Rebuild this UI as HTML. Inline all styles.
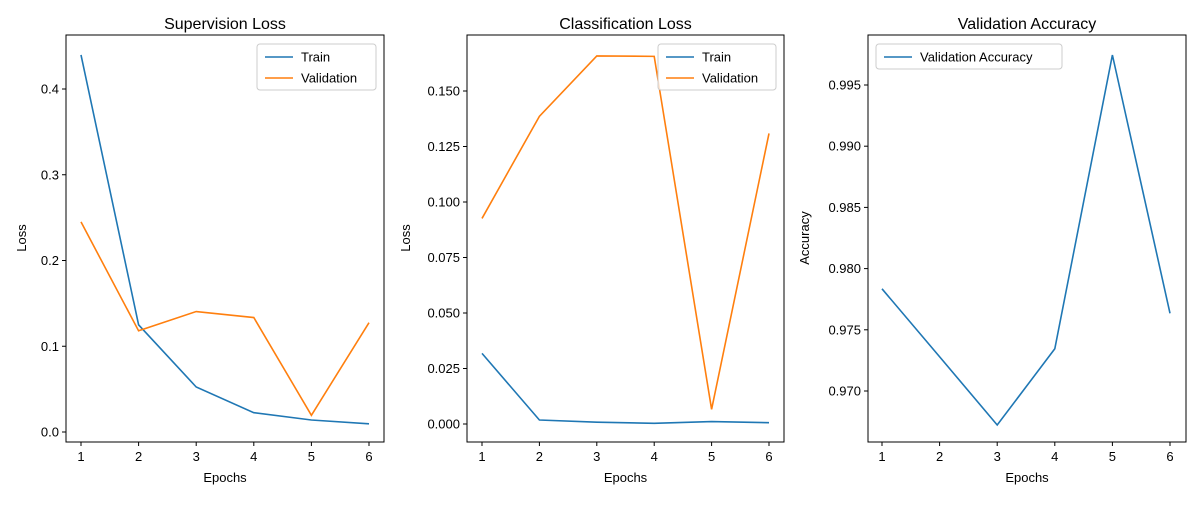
<!DOCTYPE html>
<html><head><meta charset="utf-8"><style>
body{margin:0;background:#fff}
svg{font-family:"Liberation Sans","DejaVu Sans",sans-serif}
</style></head><body>
<svg id="c" width="1200" height="500" xmlns="http://www.w3.org/2000/svg"></svg>
<script>
const epochs=[1,2,3,4,5,6];
const supTrain=[0.4397,0.125,0.0525,0.0225,0.014,0.0095];
const supVal=[0.245,0.118,0.1405,0.1335,0.0195,0.1275];
const clsTrain=[0.0318,0.0018,0.0008,0.0003,0.0011,0.0006];
const clsVal=[0.0926,0.1386,0.1658,0.1656,0.0066,0.1309];
const accVal=[0.97835,0.9728,0.96722,0.97345,0.99745,0.97635];
const supTicks=[0.0,0.1,0.2,0.3,0.4];
const clsTicks=[0.000,0.025,0.050,0.075,0.100,0.125,0.150];
const accTicks=[0.970,0.975,0.980,0.985,0.990,0.995];
const NS="http://www.w3.org/2000/svg";
const svg=document.getElementById('c');
function mk(t,a,p){const e=document.createElementNS(NS,t);for(const k in a)e.setAttribute(k,a[k]);(p||svg).appendChild(e);return e;}
function panel(cfg){
 const g=mk('g',{});
 
 
 const X=v=>cfg.x1+(v-1)*(cfg.x6-cfg.x1)/5;
 const Y=v=>cfg.yA+(v-cfg.vA)*(cfg.yB-cfg.yA)/(cfg.vB-cfg.vA);
 const fr=mk('rect',{x:cfg.L,y:35,width:cfg.R-cfg.L,height:407,fill:'none',stroke:'#000','stroke-width':1},g);
 
 epochs.forEach(e=>{
  mk('line',{x1:X(e),x2:X(e),y1:442,y2:446,stroke:'#000'},g);
  const t=mk('text',{x:X(e),y:461,'font-size':13,'text-anchor':'middle'},g);t.textContent=e;
  
 });
 cfg.ticks.forEach(v=>{
  mk('line',{x1:cfg.L-4,x2:cfg.L,y1:Y(v),y2:Y(v),stroke:'#000'},g);
  const t=mk('text',{x:cfg.L-7,y:Y(v)+4.5,'font-size':13,'text-anchor':'end'},g);t.textContent=v.toFixed(cfg.dec);
  
 });
 const tt=mk('text',{x:(cfg.L+cfg.R)/2,y:29,'font-size':16,'text-anchor':'middle'},g);tt.textContent=cfg.title;
 
 const xl=mk('text',{x:(cfg.L+cfg.R)/2,y:482,'font-size':13,'text-anchor':'middle'},g);xl.textContent='Epochs';
 
 const yl=mk('text',{x:0,y:0,'font-size':13,'text-anchor':'middle',transform:`translate(${cfg.ylx},238) rotate(-90)`},g);yl.textContent=cfg.ylabel;
 
 cfg.series.forEach(s=>{
  const p=mk('polyline',{points:s.d.map((v,i)=>X(epochs[i])+','+Y(v)).join(' '),fill:'none',stroke:s.c,'stroke-width':1.6},g);
  
 });
 const lg=mk('g',{},g);
 
 mk('rect',{x:cfg.lx,y:44,width:cfg.lw,height:cfg.series.length*21+4,rx:3,fill:'#fff','fill-opacity':0.8,stroke:'#ccc'},lg);
 cfg.series.forEach((s,i)=>{
  const y=57+i*21;
  mk('line',{x1:cfg.lx+8,x2:cfg.lx+36,y1:y,y2:y,stroke:s.c,'stroke-width':1.6},lg);
  const t=mk('text',{x:cfg.lx+44,y:y+4.5,'font-size':13},lg);t.textContent=s.label;
  
 });
}
panel({name:'supervision-loss-chart',L:66,R:384,x1:81,x6:369,yA:432,vA:0,yB:89,vB:0.4,ticks:supTicks,dec:1,title:'Supervision Loss',ylabel:'Loss',ylx:26,lx:257,lw:119,
 series:[{d:supTrain,c:'#1f77b4',label:'Train',n:'train'},{d:supVal,c:'#ff7f0e',label:'Validation',n:'validation'}]});
panel({name:'classification-loss-chart',L:467,R:784,x1:482,x6:769,yA:424,vA:0,yB:91,vB:0.15,ticks:clsTicks,dec:3,title:'Classification Loss',ylabel:'Loss',ylx:410,lx:658,lw:118,
 series:[{d:clsTrain,c:'#1f77b4',label:'Train',n:'train'},{d:clsVal,c:'#ff7f0e',label:'Validation',n:'validation'}]});
panel({name:'validation-accuracy-chart',L:868,R:1186,x1:882,x6:1170,yA:391,vA:0.970,yB:85,vB:0.995,ticks:accTicks,dec:3,title:'Validation Accuracy',ylabel:'Accuracy',ylx:809,lx:876,lw:186,
 series:[{d:accVal,c:'#1f77b4',label:'Validation Accuracy',n:'validation-accuracy'}]});
</script>
</body></html>
